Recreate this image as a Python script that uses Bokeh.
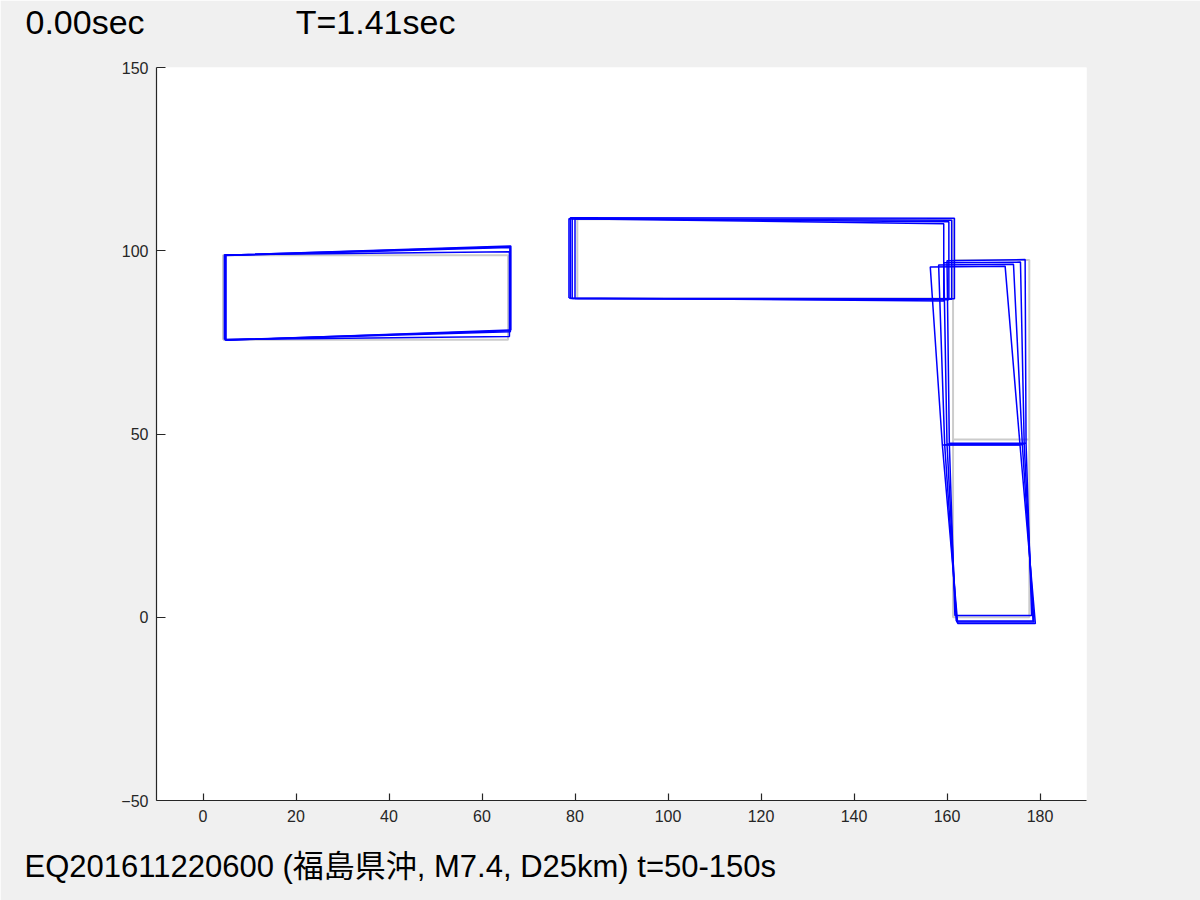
from bokeh.plotting import figure
from bokeh.models import Range1d, FixedTicker, Title
from bokeh.embed import file_html
from bokeh.resources import INLINE

# ---------------- data ----------------
x_ticks = [0, 20, 40, 60, 80, 100, 120, 140, 160, 180]
y_ticks = [-50, 0, 50, 100, 150]

time_text = "0.00sec"
period_text = "T=1.41sec"
caption = "EQ201611220600 (福島県沖, M7.4, D25km) t=50-150s"

# Block A (left): corners BL, BR, TR, TL
A_ref_x = [4.3, 65.6, 65.6, 4.3]
A_ref_y = [75.7, 75.7, 98.8, 98.8]
A_snap_x = [[4.9, 66.2, 66.2, 4.9],
            [4.8, 66.1, 66.1, 4.8],
            [4.9, 66.0, 66.0, 4.9],
            [4.6, 65.9, 65.9, 4.6]]
A_snap_y = [[75.6, 78.4, 101.3, 98.8],
            [75.6, 77.9, 100.9, 98.7],
            [75.7, 78.2, 101.1, 98.8],
            [75.8, 76.6, 99.7, 98.9]]

# Block B (middle, horizontal): corners BL, BR, TR, TL
B_ref_x = [80.5, 161.3, 161.3, 80.5]
B_ref_y = [87.0, 87.0, 108.6, 108.6]
B_snap_x = [[78.7, 159.3, 159.3, 78.7],
            [79.4, 160.4, 160.4, 79.4],
            [80.0, 161.0, 161.0, 80.0],
            [79.0, 161.6, 161.6, 79.0]]
B_snap_y = [[87.1, 86.3, 107.4, 108.7],
            [87.0, 86.6, 107.9, 108.8],
            [87.0, 86.8, 108.3, 108.7],
            [87.0, 86.9, 108.9, 109.0]]

# Block C (right, tall): corners BL, BR, MR, TR, TL, ML
C_ref_x = [161.3, 177.7, 177.7, 177.7, 161.3, 161.3]
C_ref_y = [0.0, 0.0, 48.5, 97.5, 97.5, 48.5]
C_snap_x = [[162.3, 179.0, 175.7, 172.5, 156.4, 159.0],
            [162.1, 178.7, 176.2, 174.3, 158.2, 159.5],
            [162.0, 178.5, 176.6, 175.8, 159.3, 160.0],
            [161.7, 178.2, 177.0, 176.8, 160.0, 160.5]]
C_snap_y = [[-1.7, -1.7, 47.0, 95.8, 95.6, 47.0],
            [-1.3, -1.3, 47.1, 96.3, 96.1, 47.1],
            [-1.0, -1.0, 47.3, 96.9, 96.7, 47.3],
            [0.5, 0.5, 47.5, 97.6, 97.3, 47.5]]

# ---------------- paths ----------------
RECT_ORDER = [0, 1, 2, 3, 0]
C_ORDER = [5, 2, 3, 4, 5, 0, 1, 2]


def path(xs, ys, order):
    return [xs[i] for i in order], [ys[i] for i in order]


gray_xs, gray_ys = [], []
for rx, ry, order in [(A_ref_x, A_ref_y, RECT_ORDER),
                      (B_ref_x, B_ref_y, RECT_ORDER),
                      (C_ref_x, C_ref_y, C_ORDER)]:
    px, py = path(rx, ry, order)
    gray_xs.append(px)
    gray_ys.append(py)

blue_xs, blue_ys = [], []
for sx, sy, order in [(A_snap_x, A_snap_y, RECT_ORDER),
                      (B_snap_x, B_snap_y, RECT_ORDER),
                      (C_snap_x, C_snap_y, C_ORDER)]:
    for kx, ky in zip(sx, sy):
        px, py = path(kx, ky, order)
        blue_xs.append(px)
        blue_ys.append(py)

# ---------------- figure ----------------
p = figure(width=1200, height=900, output_backend="svg", toolbar_location=None,
           x_range=Range1d(-10, 190), y_range=Range1d(-50, 150),
           min_border_left=156, min_border_right=114,
           min_border_top=67, min_border_bottom=100, title=None)

p.background_fill_color = "white"
p.border_fill_color = "#f0f0f0"
p.outline_line_color = None
p.grid.visible = False

for ax, ticks in [(p.xaxis, x_ticks), (p.yaxis, y_ticks)]:
    ax.ticker = FixedTicker(ticks=ticks)
    ax.axis_line_color = "#262626"
    ax.axis_line_width = 1.2
    ax.major_tick_line_color = "#262626"
    ax.major_tick_line_width = 1.2
    ax.major_tick_out = 0
    ax.minor_tick_line_color = None
    ax.major_label_text_font = "Liberation Sans"
    ax.major_label_text_font_size = "16px"
    ax.major_label_text_color = "#262626"

p.xaxis.major_tick_in = 7
p.yaxis.major_tick_in = 9
p.xaxis.major_label_standoff = 9
p.yaxis.major_label_standoff = 8

p.multi_line(gray_xs, gray_ys, line_color="#cccccc", line_width=2)
p.multi_line(blue_xs, blue_ys, line_color="#0000ff", line_width=1.5, line_alpha=1.0)

# ---------------- texts (titles in the side panels) ----------------
NB = "\u00a0"
top_line = time_text + NB * 16 + period_text

# spacer between frame and top line
p.add_layout(Title(text=NB, text_font_size="1px", standoff=24), "above")
p.add_layout(Title(text=top_line, align="left", offset=-131, standoff=0,
                   text_font="Liberation Sans", text_font_size="34px",
                   text_font_style="normal", text_color="black"), "above")

# spacer between x axis and caption
p.add_layout(Title(text=NB, text_font_size="1px", standoff=19), "below")
p.add_layout(Title(text=caption, align="left", offset=-132, standoff=0,
                   text_font="'Liberation Sans', 'Noto Sans CJK JP'", text_font_size="31px",
                   text_font_style="normal", text_color="black"), "below")

open("out.html", "w").write(file_html(p, INLINE))
